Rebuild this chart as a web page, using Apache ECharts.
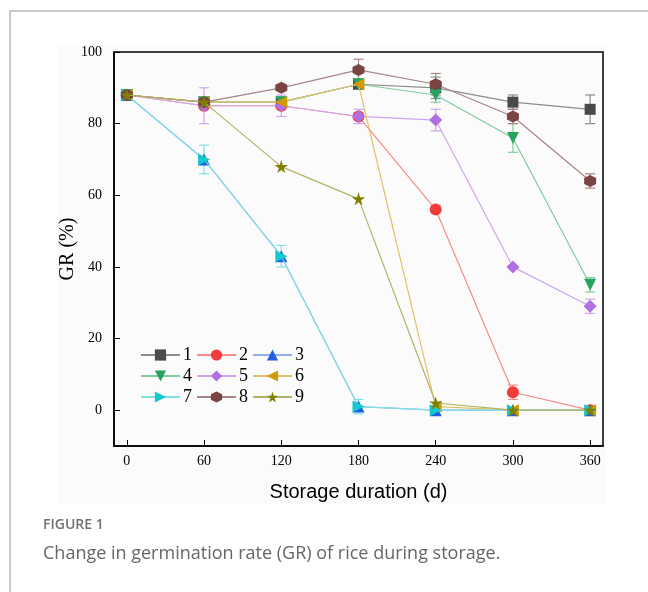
<!DOCTYPE html>
<html>
<head>
<meta charset="utf-8">
<script src="https://cdn.jsdelivr.net/npm/echarts@6/dist/echarts.min.js"></script>
<style>html,body{margin:0;padding:0;background:#fff;}#c{width:648px;height:592px;}</style>
</head>
<body>
<div id="c"></div>
<script>
const days = [0, 60, 120, 180, 240, 300, 360];
const xTicks = [0, 60, 120, 180, 240, 300, 360];
const yTicks = [0, 20, 40, 60, 80, 100];
const names = ['1', '2', '3', '4', '5', '6', '7', '8', '9'];

const s1 = [88, 86, 86, 91, 90, 86, 84];
const s2 = [88, 85, 85, 82, 56, 5, 0];
const s3 = [88, 70, 43, 1, 0, 0, 0];
const s4 = [88, 86, 86, 91, 88, 76, 35];
const s5 = [88, 85, 85, 82, 81, 40, 29];
const s6 = [88, 86, 86, 91, 1, 0, 0];
const s7 = [88, 70, 43, 1, 0, 0, 0];
const s8 = [88, 86, 90, 95, 91, 82, 64];
const s9 = [88, 86, 68, 59, 2, 0, 0];

const e1 = [0, 0, 0, 0, 3, 2, 4];
const e2 = [0, 0, 0, 0, 0, 2, 0];
const e3 = [0, 0, 0, 0, 0, 0, 0];
const e4 = [0, 0, 0, 0, 2, 4, 2];
const e5 = [0, 5, 3, 2, 3, 0, 2];
const e6 = [0, 0, 0, 0, 0, 0, 0];
const e7 = [0, 4, 3, 2, 0, 0, 0];
const e8 = [0, 0, 0, 3, 3, 2, 2];
const e9 = [0, 0, 0, 0, 0, 0, 0];

const values = [s1, s2, s3, s4, s5, s6, s7, s8, s9];
const errors = [e1, e2, e3, e4, e5, e6, e7, e8, e9];

const colors = ['#4a4a4a', '#f23c3c', '#1f5fe0', '#27a35e', '#b06ee0', '#d09a05', '#14c8cf', '#7a4444', '#808000'];
const lineColors = ['#8c8c8c', '#f78a8a', '#8fafef', '#7fcca0', '#cfa6ee', '#e5c06a', '#80e0e4', '#a88585', '#b3b366'];
const hexagon = 'path://M0,-1L0.866,-0.5L0.866,0.5L0,1L-0.866,0.5L-0.866,-0.5Z';
const star = 'path://M0,-1L0.2245,-0.309L0.951,-0.309L0.3633,0.118L0.5878,0.809L0,0.382L-0.5878,0.809L-0.3633,0.118L-0.951,-0.309L-0.2245,-0.309Z';
const symbols = ['rect', 'circle', 'triangle', 'triangle', 'diamond', 'triangle', 'triangle', hexagon, star];
const rotates = [0, 0, 0, 180, 0, 90, -90, 0, 0];
const sizes = [11, 12, 12, 12, 13, 12, 12, 12, 13];

const series = [];
values.forEach((vals, i) => {
  const col = colors[i];
  const lc = lineColors[i];
  series.push({
    type: 'custom',
    silent: true,
    z: 1,
    renderItem: function (params, api) {
      const x = api.value(0), y = api.value(1), e = api.value(2);
      const t = api.coord([x, y + e]);
      const b = api.coord([x, y - e]);
      const hw = 5;
      const st = { stroke: lc, lineWidth: 1.2 };
      return {
        type: 'group',
        children: [
          { type: 'line', shape: { x1: t[0], y1: t[1], x2: b[0], y2: b[1] }, style: st },
          { type: 'line', shape: { x1: t[0] - hw, y1: t[1], x2: t[0] + hw, y2: t[1] }, style: st },
          { type: 'line', shape: { x1: b[0] - hw, y1: b[1], x2: b[0] + hw, y2: b[1] }, style: st }
        ]
      };
    },
    encode: { x: 0, y: 1 },
    data: days.map((d, j) => [d, vals[j], errors[i][j]]).filter(p => p[2] > 0)
  });
  series.push({
    name: names[i],
    type: 'line',
    z: 2 + i,
    data: days.map((d, j) => [d, vals[j]]),
    symbol: symbols[i],
    symbolRotate: rotates[i],
    symbolSize: sizes[i],
    showAllSymbol: true,
    itemStyle: { color: col, opacity: 1 },
    lineStyle: { color: lc, width: 1.2, opacity: 1 }
  });
});

const legendBase = {
  itemWidth: 39,
  itemHeight: 14,
  itemGap: 4,
  left: 135,
  orient: 'horizontal',
  textStyle: { fontFamily: 'Liberation Serif', fontSize: 18, color: '#000', padding: [0, 0, 0, -2] },
  selectedMode: false
};

const chart = echarts.init(document.getElementById('c'), null, { renderer: 'canvas' });
chart.setOption({
  animation: false,
  backgroundColor: '#fff',
  graphic: [
    { type: 'rect', z: -10, shape: { x: 57, y: 45, width: 548, height: 459 }, style: { fill: '#fbfbfb' } },
    { type: 'line', shape: { x1: 9, y1: 11, x2: 648, y2: 11 }, style: { stroke: '#b8b8b8', lineWidth: 1.5 } },
    { type: 'line', shape: { x1: 10, y1: 11, x2: 10, y2: 592 }, style: { stroke: '#b8b8b8', lineWidth: 1.5 } },
    { type: 'text', left: 43, top: 518, style: { text: 'FIGURE 1', font: '600 14px "Open Sans"', fill: '#707070' } },
    { type: 'text', left: 43, top: 545, style: { text: 'Change in germination rate (GR) of rice during storage.', font: '18px "Open Sans"', fill: '#666' } }
  ],
  grid: { left: 114, top: 52, right: 45, bottom: 146, show: true, borderColor: '#000', borderWidth: 1.5, backgroundColor: 'transparent' },
  legend: [
    Object.assign({}, legendBase, { data: ['1', '2', '3'], top: 341 }),
    Object.assign({}, legendBase, { data: ['4', '5', '6'], top: 362 }),
    Object.assign({}, legendBase, { data: ['7', '8', '9'], top: 383 })
  ],
  xAxis: {
    type: 'value',
    min: -10,
    max: 370,
    name: 'Storage duration (d)',
    nameLocation: 'middle',
    nameGap: 36,
    nameTextStyle: { fontFamily: 'Liberation Sans', fontSize: 20, color: '#000' },
    axisLine: { show: true, onZero: false, lineStyle: { color: '#000', width: 1.5 } },
    axisTick: { show: true, inside: true, length: 6, customValues: xTicks, lineStyle: { color: '#000', width: 1 } },
    axisLabel: { customValues: xTicks, fontFamily: 'Liberation Serif', fontSize: 14, color: '#000', margin: 8 },
    splitLine: { show: false }
  },
  yAxis: {
    type: 'value',
    min: -10,
    max: 100,
    name: 'GR (%)',
    nameLocation: 'middle',
    nameGap: 36,
    nameMoveOverlap: false,
    nameTextStyle: { fontFamily: 'Liberation Serif', fontSize: 20, color: '#000' },
    axisLine: { show: true, onZero: false, lineStyle: { color: '#000', width: 1.5 } },
    axisTick: { show: true, inside: true, length: 6, customValues: yTicks, lineStyle: { color: '#000', width: 1 } },
    axisLabel: { customValues: yTicks, fontFamily: 'Liberation Serif', fontSize: 14, color: '#000', margin: 12 },
    splitLine: { show: false }
  },
  series: series
});
</script>
</body>
</html>
